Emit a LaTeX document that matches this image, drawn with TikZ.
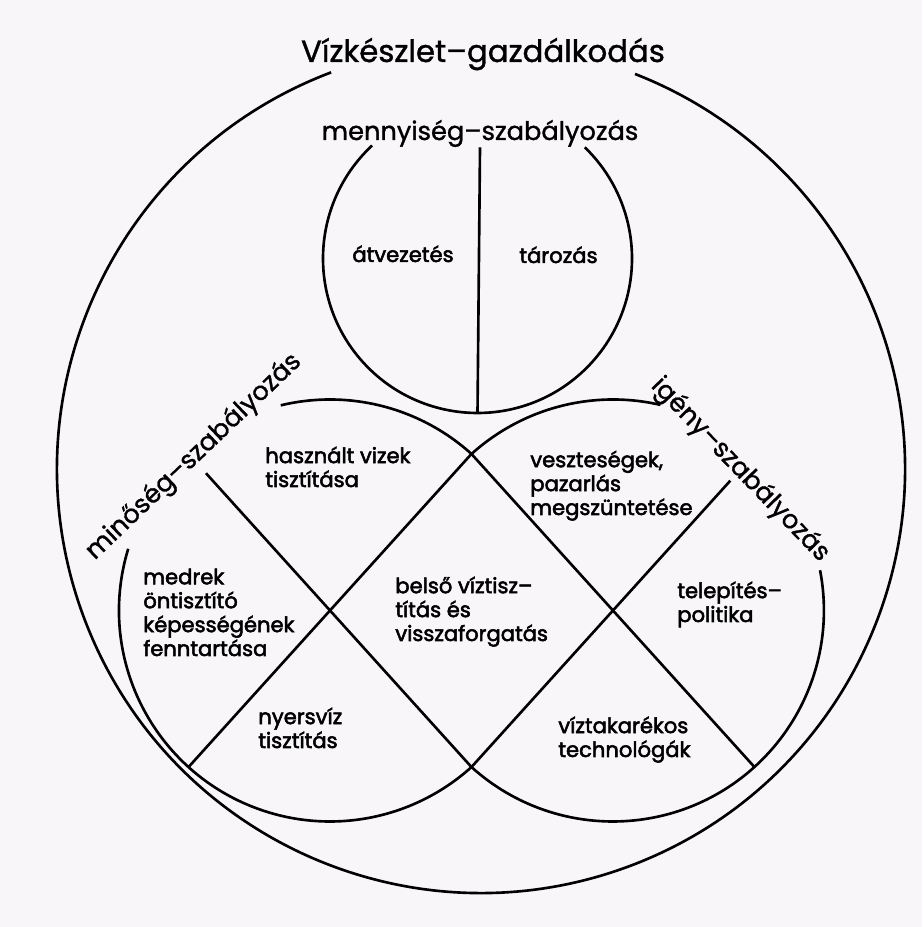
\documentclass[tikz,border=0pt]{standalone}
\usepackage{fontspec}
\setmainfont{Poppins}[FakeBold=1.2]
\newfontfamily\inkfont{Poppins}[FakeBold=2.5]
\usetikzlibrary{calc,positioning}
\definecolor{paper}{RGB}{248,246,249}
\tikzset{
    every node/.style={
        font=\inkfont\fontsize{12}{13.6}\selectfont,
        inner sep=0pt
    },
    rim/.style={
        line width=1.5pt
    },
    head/.style={
        font=\fontsize{14.6}{16}\selectfont
    },
    area/.style={
        align=left,
        anchor=base west
    }
}

\begin{document}
\begin{tikzpicture}[x=0.2mm, y=0.2mm]
		\useasboundingbox (0,0) rectangle (922,927);
		\fill[paper] (0,0) rectangle (922,927);
		% centres
		\coordinate (co) at (481,458);
		\coordinate (cq) at (477.5,668.5);
		\coordinate (cl) at (330,316.5);
		\coordinate (cr) at (613,316.5);
		\coordinate (it) at ($(cl)+(47.9:211)$);
		\coordinate (ib) at ($(cl)+(-47.9:211)$);
		% labels
		\node (title) at (483,865) [anchor=base, font=\fontsize{17.5}{19}\selectfont] {Vízkészlet–gazdálkodás};
		\node (menny) at (480,787) [head, anchor=base] {mennyiség–szabályozás};
		\node (minos) at (194,470) [head, rotate=43.6] {minőség–szabályozás};
		\node (igeny) at (740,457) [head, rotate=-46] {igény–szabályozás};
		\node (atvez) at (403,665) [anchor=base] {átvezetés};
		\node (taroz) at (558.5,664) [anchor=base] {tározás};
		% last line is the base
		\node (haszn) at (265,440) [area] {használt vizek\\tisztítása};
		\node (veszt) at (530,412) [area] {veszteségek,\\pazarlás\\megszüntetése};
		\node (medr) at (143,271) [area] {medrek\\öntisztító\\képességének\\fenntartása};
		\node (belso) at (395,286) [area] {belső víztisz–\\títás és\\visszaforgatás};
		\node (telep) at (677,305) [area] {telepítés–\\politika};
		\node (nyers) at (258,179) [area] {nyersvíz\\tisztítás};
		\node (takar) at (558,170) [area] {víztakarékos\\technológák};
		% circles
		\draw[rim] ($(co)+(110.7:424)$) arc[start angle=110.7, end angle=428.7, radius=424];
		\draw[rim] ($(cq)+(133:154.5)$) arc[start angle=133, end angle=406, radius=154.5];
		\draw[rim] (it) arc[start angle=47.9, end angle=103.5, radius=211];
		\draw[rim] ($(cl)+(163:211)$) arc[start angle=163, end angle=312.1, radius=211];
		\draw[rim] ($(cr)+(77:211)$) arc[start angle=77, end angle=132.1, radius=211];
		\draw[rim] (ib) arc[start angle=227.9, end angle=371, radius=211];
		% dividers
		\coordinate (qb) at ($(cq)+(-90:154.5)$);
		\coordinate (l1) at ($(cl)+(132.1:185)$);
		\coordinate (l2) at ($(cl)+(227.9:211)$);
		\coordinate (r1) at ($(cr)+(47.9:175)$);
		\coordinate (r2) at ($(cr)+(-47.9:211)$);
		\draw[rim] (menny.south) -- (qb);
		\draw[rim] (it) -- (l2);
		\draw[rim] (ib) -- (l1);
		\draw[rim] (it) -- (r2);
		\draw[rim] (ib) -- (r1);
	\end{tikzpicture}
\end{document}
